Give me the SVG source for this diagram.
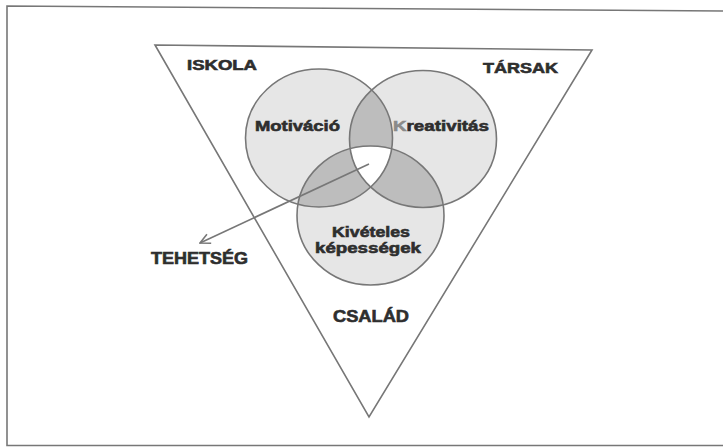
<svg xmlns="http://www.w3.org/2000/svg" width="723" height="448" viewBox="0 0 723 448">
<style>
.ln{fill:none;stroke:#777;stroke-width:1.6}
.lt{fill:#e6e6e6}
.dk{fill:#bdbdbd}
.t{font-family:"Liberation Sans",Arial,sans-serif;font-weight:bold;fill:#2e2e2e;stroke:#2e2e2e;stroke-width:0.6}
</style>
<defs>
<clipPath id="cA"><ellipse cx="319" cy="138" rx="73.5" ry="69"/></clipPath>
<clipPath id="cB"><ellipse cx="423" cy="139" rx="73.5" ry="68.5"/></clipPath>
<clipPath id="cC"><ellipse cx="370.5" cy="215.5" rx="73.5" ry="69.5"/></clipPath>
<marker id="ah" viewBox="0 0 12 12" refX="11" refY="6" markerWidth="12" markerHeight="12" markerUnits="userSpaceOnUse" orient="auto">
<path d="M1,1 L11,6 L1,11" fill="none" stroke="#777" stroke-width="1.6"/>
</marker>
</defs>
<rect width="723" height="448" fill="#fff"/>
<g id="frame"><polyline class="ln" points="723,11 7,6 7,445.5 723,445.5"/></g>
<g id="triangle"><polygon class="ln" points="155,45 592,50 369,417"/></g>
<g id="circles">
<ellipse class="lt" cx="319" cy="138" rx="73.5" ry="69"/>
<ellipse class="lt" cx="423" cy="139" rx="73.5" ry="68.5"/>
<ellipse class="lt" cx="370.5" cy="215.5" rx="73.5" ry="69.5"/>
<ellipse class="dk" clip-path="url(#cA)" cx="423" cy="139" rx="73.5" ry="68.5"/>
<ellipse class="dk" clip-path="url(#cA)" cx="370.5" cy="215.5" rx="73.5" ry="69.5"/>
<ellipse class="dk" clip-path="url(#cB)" cx="370.5" cy="215.5" rx="73.5" ry="69.5"/>
<g clip-path="url(#cA)"><ellipse fill="#fff" clip-path="url(#cB)" cx="370.5" cy="215.5" rx="73.5" ry="69.5"/></g>
</g>
<g id="motivacio"><ellipse class="ln" cx="319" cy="138" rx="73.5" ry="69"/><text class="t" x="255" y="131" font-size="14.5" textLength="85" lengthAdjust="spacingAndGlyphs">Motiváció</text></g>
<g id="kreativitas"><ellipse class="ln" cx="423" cy="139" rx="73.5" ry="68.5"/><text class="t" x="393" y="131" font-size="14.5" textLength="96" lengthAdjust="spacingAndGlyphs"><tspan fill="#8a8a8a" stroke="#8a8a8a">K</tspan>reativitás</text></g>
<g id="kepessegek"><ellipse class="ln" cx="370.5" cy="215.5" rx="73.5" ry="69.5"/>
<text class="t" x="332" y="237" font-size="14.5" textLength="78" lengthAdjust="spacingAndGlyphs">Kivételes</text>
<text class="t" x="315" y="253" font-size="14.5" textLength="106" lengthAdjust="spacingAndGlyphs">képességek</text></g>
<g id="iskola"><text class="t" x="187" y="70" font-size="14.5" textLength="70" lengthAdjust="spacingAndGlyphs">ISKOLA</text></g>
<g id="tarsak"><text class="t" x="483" y="73" font-size="14.5" textLength="75" lengthAdjust="spacingAndGlyphs">TÁRSAK</text></g>
<g id="csalad"><text class="t" x="333" y="322" font-size="16.5" textLength="76" lengthAdjust="spacingAndGlyphs">CSALÁD</text></g>
<g id="tehetseg"><text class="t" x="151" y="264" font-size="16.5" textLength="97" lengthAdjust="spacingAndGlyphs">TEHETSÉG</text></g>
<g id="connectors"><line class="ln" x1="369" y1="164" x2="200" y2="243" marker-end="url(#ah)"/></g>
</svg>
